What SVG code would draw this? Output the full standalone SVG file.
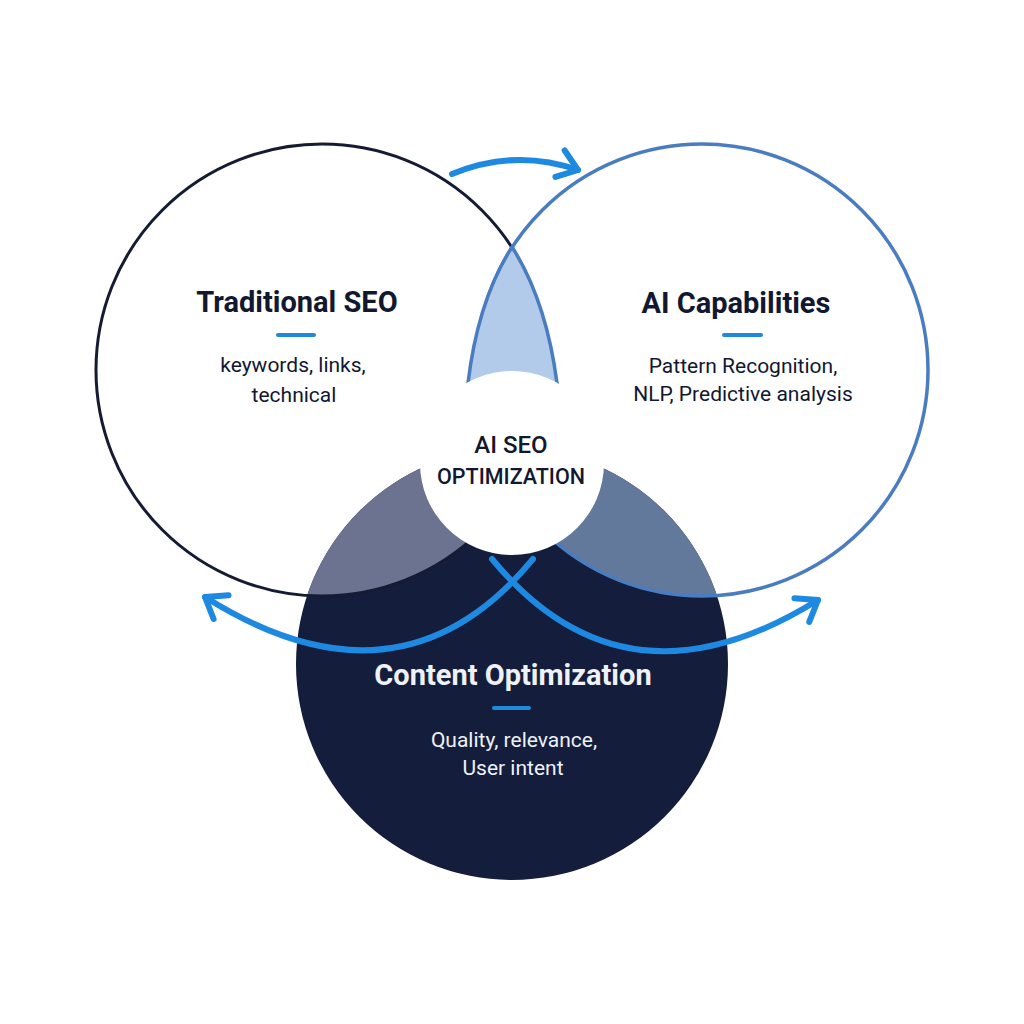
<svg xmlns="http://www.w3.org/2000/svg" width="1024" height="1024" viewBox="0 0 1024 1024">
  <style>
    .title { font-family: Roboto, "Liberation Sans", sans-serif; font-weight: 700; font-size: 29px; text-anchor: middle; fill: #111830; }
    .body { font-family: Roboto, "Liberation Sans", sans-serif; font-weight: 400; font-size: 21px; text-anchor: middle; fill: #111830; }
    .center { font-family: Roboto, "Liberation Sans", sans-serif; font-weight: 500; text-anchor: middle; fill: #111830; }
    .light { fill: #eef1f8; }
    .bar { fill: #2189dc; }
    .arrow { fill: none; stroke: #1d89e0; stroke-width: 6; stroke-linecap: round; marker-end: url(#chev); }
  </style>
  <defs>
    <clipPath id="clipBottom"><circle cx="512" cy="664" r="216"/></clipPath>
    <marker id="chev" markerUnits="userSpaceOnUse" viewBox="-26 -20 30 40" refX="0" refY="0" markerWidth="30" markerHeight="40" orient="auto" overflow="visible">
      <path d="M-19,-14 L0,0 L-19,14" fill="none" stroke="#1d89e0" stroke-width="6" stroke-linecap="round" stroke-linejoin="round"/>
    </marker>
  </defs>
  <rect width="1024" height="1024" fill="#ffffff"/>

  <g id="content-optimization">
    <circle cx="512" cy="664" r="216" fill="#151d3c"/>
  </g>

  <g id="overlaps">
    <circle cx="322" cy="370" r="226" fill="#6b7391" clip-path="url(#clipBottom)"/>
    <circle cx="702" cy="370" r="226" fill="#63799b" clip-path="url(#clipBottom)"/>
  </g>

  <g id="traditional-seo">
    <circle cx="322" cy="370" r="226" fill="none" stroke="#151b33" stroke-width="3"/>
  </g>

  <g id="ai-capabilities">
    <circle cx="702" cy="370" r="226" fill="none" stroke="#4a7cc0" stroke-width="3.5"/>
  </g>

  <g id="lens">
    <path d="M512,247 Q478,300 468,383 L466,402 L559,402 L557,383 Q546,300 512,247 Z" fill="#b2cbeb" stroke="#4a7cc0" stroke-width="3.5" stroke-linejoin="round"/>
  </g>

  <g id="ai-seo-optimization">
    <circle cx="512" cy="463" r="92" fill="#ffffff"/>
    <text class="center" x="511" y="453" font-size="24">AI SEO</text>
    <text class="center" x="511" y="484" font-size="21.5">OPTIMIZATION</text>
  </g>

  <g id="connectors">
    <path class="arrow" d="M452,174 Q515,148 578,170"/>
    <path class="arrow" d="M533,559 Q400,720 205,597"/>
    <path class="arrow" d="M492,559 Q625,720 818,600"/>
  </g>

  <g id="traditional-seo-text">
    <text class="title" x="297" y="312">Traditional SEO</text>
    <rect class="bar" x="276" y="333" width="40" height="4" rx="2"/>
    <text class="body" x="293" y="372">keywords, links,</text>
    <text class="body" x="294" y="402">technical</text>
  </g>

  <g id="ai-capabilities-text">
    <text class="title" x="736" y="313">AI Capabilities</text>
    <rect class="bar" x="722" y="333" width="41" height="4" rx="2"/>
    <text class="body" x="743" y="373">Pattern Recognition,</text>
    <text class="body" x="743" y="401">NLP, Predictive analysis</text>
  </g>

  <g id="content-optimization-text">
    <text class="title light" x="513" y="685">Content Optimization</text>
    <rect class="bar" x="492" y="706" width="39" height="4" rx="2"/>
    <text class="body light" x="514" y="747">Quality, relevance,</text>
    <text class="body light" x="513" y="775">User intent</text>
  </g>
</svg>
